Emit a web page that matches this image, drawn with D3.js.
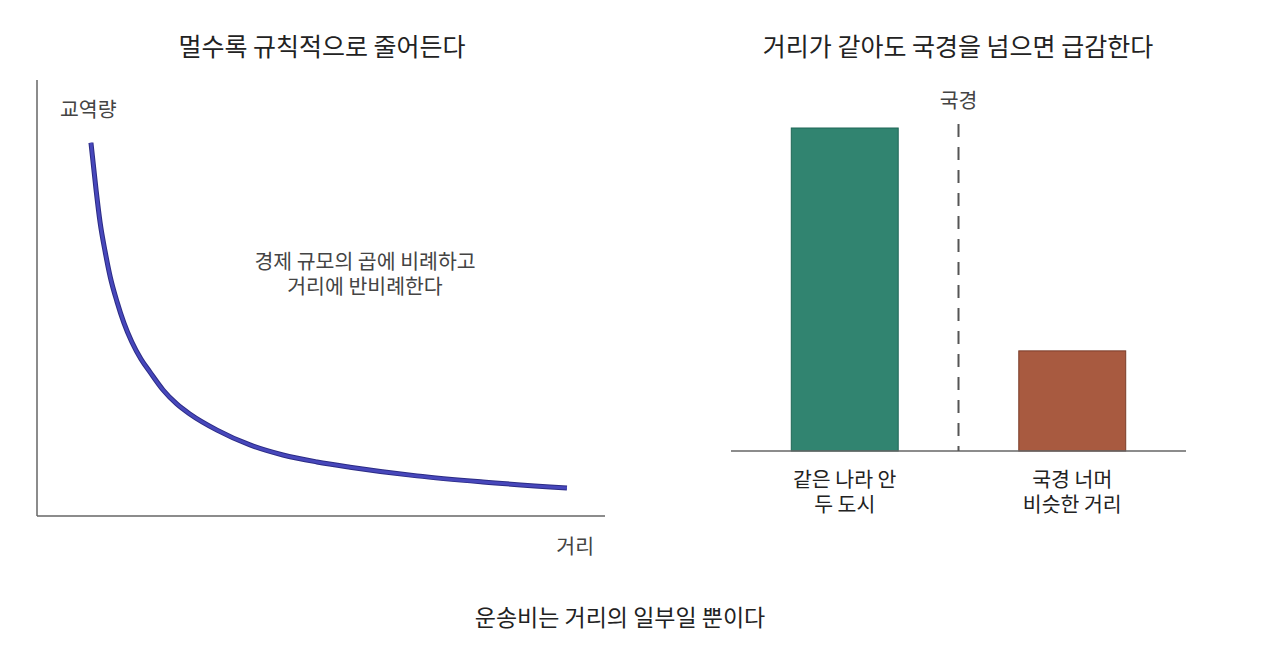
<!DOCTYPE html>
<html>
<head>
<meta charset="utf-8">
<script src="https://cdn.jsdelivr.net/npm/d3@7"></script>
<style>
  body { margin: 0; background: #fff; }
  svg text { font-family: "Noto Sans CJK KR", "Noto Sans", sans-serif; }
</style>
</head>
<body>
<script>
// left panel: trade volume against distance
var distance = [0.95, 1.04, 1.11, 1.20, 1.29, 1.41, 1.53, 1.67, 1.83, 1.99, 2.22, 2.46, 2.69, 3.17, 3.75, 4.33, 4.93, 5.51, 6.69, 7.85, 9.33];
var trade = [8.56, 7.48, 6.74, 6.06, 5.48, 4.91, 4.43, 3.99, 3.60, 3.30, 2.89, 2.57, 2.34, 1.97, 1.63, 1.40, 1.24, 1.12, 0.92, 0.78, 0.64];

// right panel: same distance, either side of a border
var categories = [["같은 나라 안", "두 도시"], ["국경 너머", "비슷한 거리"]];
var barValues = [100, 31];
var barFill = ["#318470", "#a85a40"];
var barEdge = ["#1f6656", "#7a3d29"];

var width = 1280, height = 668;

var svg = d3.select("body").append("svg")
    .attr("width", width)
    .attr("height", height);

// ---- left panel ----
var x = d3.scaleLinear().domain([0, 10]).range([37, 605]);
var y = d3.scaleLinear().domain([0, 10]).range([516, 80]);

svg.append("text")
    .attr("x", 322).attr("y", 56)
    .attr("text-anchor", "middle")
    .style("font-size", "25px").style("fill", "#222")
    .text("멀수록 규칙적으로 줄어든다");

var axisColor = "#666";
svg.append("line")
    .attr("x1", x(0)).attr("x2", x(0))
    .attr("y1", y(0)).attr("y2", y(10))
    .attr("stroke", axisColor).attr("stroke-width", 1.5);
svg.append("line")
    .attr("x1", x(0)).attr("x2", x(10))
    .attr("y1", y(0)).attr("y2", y(0))
    .attr("stroke", axisColor).attr("stroke-width", 1.5);

svg.append("text")
    .attr("x", 60).attr("y", 117)
    .style("font-size", "20.5px").style("fill", "#444")
    .text("교역량");
svg.append("text")
    .attr("x", 594).attr("y", 554)
    .attr("text-anchor", "end")
    .style("font-size", "20.5px").style("fill", "#444")
    .text("거리");

var pts = distance.map(function(d, i) { return [d, trade[i]]; });
var line = d3.line()
    .x(function(d) { return x(d[0]); })
    .y(function(d) { return y(d[1]); })
    .curve(d3.curveMonotoneX);

svg.append("path")
    .datum(pts)
    .attr("d", line)
    .attr("fill", "none")
    .attr("stroke", "#2c2c85")
    .attr("stroke-width", 5);
svg.append("path")
    .datum(pts)
    .attr("d", line)
    .attr("fill", "none")
    .attr("stroke", "#4747bb")
    .attr("stroke-width", 3);

var note = svg.append("text")
    .attr("text-anchor", "middle")
    .style("font-size", "20.5px").style("fill", "#444");
note.append("tspan").attr("x", 365).attr("y", 269).text("경제 규모의 곱에 비례하고");
note.append("tspan").attr("x", 365).attr("y", 294).text("거리에 반비례한다");

// ---- right panel ----
var bx = d3.scaleBand()
    .domain(d3.range(categories.length))
    .range([731, 1186])
    .paddingInner(0.53)
    .paddingOuter(0.265);
var by = d3.scaleLinear().domain([0, 100]).range([451, 128]);

svg.append("text")
    .attr("x", 958).attr("y", 56)
    .attr("text-anchor", "middle")
    .style("font-size", "25px").style("fill", "#222")
    .text("거리가 같아도 국경을 넘으면 급감한다");

svg.selectAll(".bar")
    .data(barValues)
    .enter().append("rect")
    .attr("class", "bar")
    .attr("x", function(d, i) { return bx(i); })
    .attr("width", bx.bandwidth())
    .attr("y", function(d) { return by(d); })
    .attr("height", function(d) { return by(0) - by(d); })
    .attr("fill", function(d, i) { return barFill[i]; })
    .attr("stroke", function(d, i) { return barEdge[i]; })
    .attr("stroke-width", 1);

svg.append("line")
    .attr("x1", 731).attr("x2", 1186)
    .attr("y1", by(0)).attr("y2", by(0))
    .attr("stroke", axisColor).attr("stroke-width", 1.5);

var borderX = (bx.range()[0] + bx.range()[1]) / 2;
svg.append("line")
    .attr("x1", borderX).attr("x2", borderX)
    .attr("y1", 124).attr("y2", by(0))
    .attr("stroke", "#555").attr("stroke-width", 2)
    .attr("stroke-dasharray", "13,10");
svg.append("text")
    .attr("x", borderX).attr("y", 108)
    .attr("text-anchor", "middle")
    .style("font-size", "20.5px").style("fill", "#444")
    .text("국경");

svg.selectAll(".cat")
    .data(categories)
    .enter().append("text")
    .attr("class", "cat")
    .attr("text-anchor", "middle")
    .style("font-size", "20.5px").style("fill", "#222")
    .each(function(d, i) {
        var t = d3.select(this);
        d.forEach(function(s, j) {
            t.append("tspan")
                .attr("x", bx(i) + bx.bandwidth() / 2)
                .attr("y", 487 + j * 25)
                .text(s);
        });
    });

// ---- bottom caption ----
svg.append("text")
    .attr("x", 620).attr("y", 626)
    .attr("text-anchor", "middle")
    .style("font-size", "23px").style("fill", "#222")
    .text("운송비는 거리의 일부일 뿐이다");
</script>
</body>
</html>
